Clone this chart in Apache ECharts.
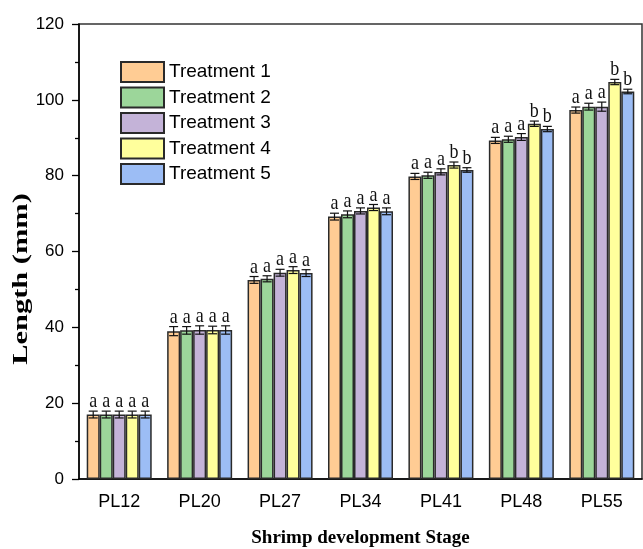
<!DOCTYPE html>
<html>
<head>
<meta charset="utf-8">
<script src="https://cdn.jsdelivr.net/npm/echarts@6/dist/echarts.min.js"></script>
<style>
  html, body { margin: 0; background: #fff; }
  #main { width: 643px; height: 549px; }
</style>
</head>
<body>
<div id="main"></div>
<script>
const stages = ['PL12', 'PL20', 'PL27', 'PL34', 'PL41', 'PL48', 'PL55']
const treatments = ['Treatment 1', 'Treatment 2', 'Treatment 3', 'Treatment 4', 'Treatment 5']

// mean length (mm)
const t1 = [17.0, 39.0, 52.5, 69.2, 79.8, 89.3, 97.3]
const t2 = [17.0, 39.2, 52.8, 69.8, 80.1, 89.6, 98.2]
const t3 = [17.0, 39.3, 54.4, 70.7, 81.0, 90.2, 98.2]
const t4 = [17.0, 39.3, 55.1, 71.6, 82.8, 93.7, 104.7]
const t5 = [17.0, 39.3, 54.3, 70.6, 81.5, 92.3, 102.2]

// error (+/-)
const e1 = [0.9, 1.2, 0.9, 0.9, 0.8, 0.8, 0.8]
const e2 = [0.9, 1.0, 0.8, 0.9, 0.8, 0.8, 0.9]
const e3 = [0.9, 1.1, 0.9, 0.8, 0.8, 0.9, 1.2]
const e4 = [0.9, 1.0, 0.9, 0.8, 0.8, 0.7, 0.7]
const e5 = [0.9, 1.1, 0.9, 0.9, 0.6, 0.7, 0.6]

// significance letters
const l1 = ['a', 'a', 'a', 'a', 'a', 'a', 'a']
const l2 = ['a', 'a', 'a', 'a', 'a', 'a', 'a']
const l3 = ['a', 'a', 'a', 'a', 'a', 'a', 'a']
const l4 = ['a', 'a', 'a', 'a', 'b', 'b', 'b']
const l5 = ['a', 'a', 'a', 'a', 'b', 'b', 'b']

const yTicks = [0, 20, 40, 60, 80, 100, 120]

const colors = ['#FFCC94', '#9CD69A', '#C4B3D8', '#FFFF9C', '#9CBDF5']
const means = [t1, t2, t3, t4, t5]
const errs = [e1, e2, e3, e4, e5]
const letters = [l1, l2, l3, l4, l5]
const BAR_W = 13

const errData = []
means.forEach((arr, s) => {
  arr.forEach((v, c) => errData.push([c, s, v, errs[s][c]]))
})

const series = treatments.map((name, s) => ({
  name: name,
  type: 'bar',
  data: means[s],
  barWidth: BAR_W,
  barGap: '0%',
  itemStyle: { color: colors[s], borderColor: '#2a2a2a', borderWidth: 1.5 }
}))

series.push({
  name: 'err',
  type: 'custom',
  data: errData,
  encode: { x: 0, y: 2 },
  z: 5,
  renderItem(params, api) {
    const cat = api.value(0)
    const s = api.value(1)
    const v = api.value(2)
    const e = api.value(3)
    const c = api.coord([cat, v])
    const x = c[0] + (s - 2) * BAR_W
    const top = api.coord([cat, v + e])[1]
    const bot = api.coord([cat, v - e])[1]
    const st = { stroke: '#111', lineWidth: 1.2 }
    return {
      type: 'group',
      children: [
        { type: 'line', shape: { x1: x, y1: top, x2: x, y2: bot }, style: st },
        { type: 'line', shape: { x1: x - 4.5, y1: top, x2: x + 4.5, y2: top }, style: st },
        { type: 'line', shape: { x1: x - 4.5, y1: bot, x2: x + 4.5, y2: bot }, style: st },
        {
          type: 'text',
          x: x,
          y: top + 1,
          scaleY: 1.15,
          style: {
            text: letters[s][cat],
            font: '18px "Liberation Serif"',
            align: 'center',
            verticalAlign: 'bottom',
            fill: '#111'
          }
        }
      ]
    }
  }
})

var myChart = echarts.init(document.getElementById('main'))
myChart.setOption({
  animation: false,
  backgroundColor: '#fff',
  grid: {
    left: 79, right: 1, top: 24, bottom: 70,
    outerBoundsMode: 'none',
    show: true, borderColor: '#333', borderWidth: 1.5
  },
  legend: {
    data: treatments,
    orient: 'vertical',
    left: 115,
    top: 56,
    itemWidth: 43,
    itemHeight: 20,
    itemGap: 3.5,
    icon: 'rect',
    textStyle: { fontFamily: 'Liberation Sans', fontSize: 19, color: '#000', lineHeight: 20 }
  },
  graphic: [{
    type: 'text',
    x: 22,
    y: 279,
    rotation: Math.PI / 2,
    scaleX: 1.45,
    style: {
      text: 'Length (mm)',
      font: 'bold 21px "Liberation Serif"',
      align: 'center',
      verticalAlign: 'middle',
      fill: '#000'
    }
  }],
  xAxis: [{
    type: 'category',
    data: stages,
    name: 'Shrimp development Stage',
    nameLocation: 'middle',
    nameGap: 50,
    nameTextStyle: { fontFamily: 'Liberation Serif', fontWeight: 'bold', fontSize: 19, color: '#000' },
    axisLine: { lineStyle: { color: '#000', width: 1.5 } },
    axisTick: { alignWithLabel: true, length: 7, lineStyle: { color: '#000', width: 1.3 } },
    axisLabel: { fontFamily: 'Liberation Sans', fontSize: 18, color: '#000', margin: 14 }
  }, {
    type: 'category',
    data: stages,
    position: 'bottom',
    axisLine: { show: false },
    axisTick: { length: 4, lineStyle: { color: '#000', width: 1.3 } },
    axisLabel: { show: false }
  }],
  yAxis: {
    type: 'value',
    min: yTicks[0],
    max: yTicks[yTicks.length - 1],
    interval: 20,
    splitLine: { show: false },
    axisLine: { show: true, lineStyle: { color: '#000', width: 1.5 } },
    axisTick: { show: true, length: 7, lineStyle: { color: '#000', width: 1.3 } },
    minorTick: { show: true, splitNumber: 2, length: 4, lineStyle: { color: '#000', width: 1.3 } },
    axisLabel: { fontFamily: 'Liberation Sans', fontSize: 17, color: '#000', margin: 15 }
  },
  series: series
})
</script>
</body>
</html>
